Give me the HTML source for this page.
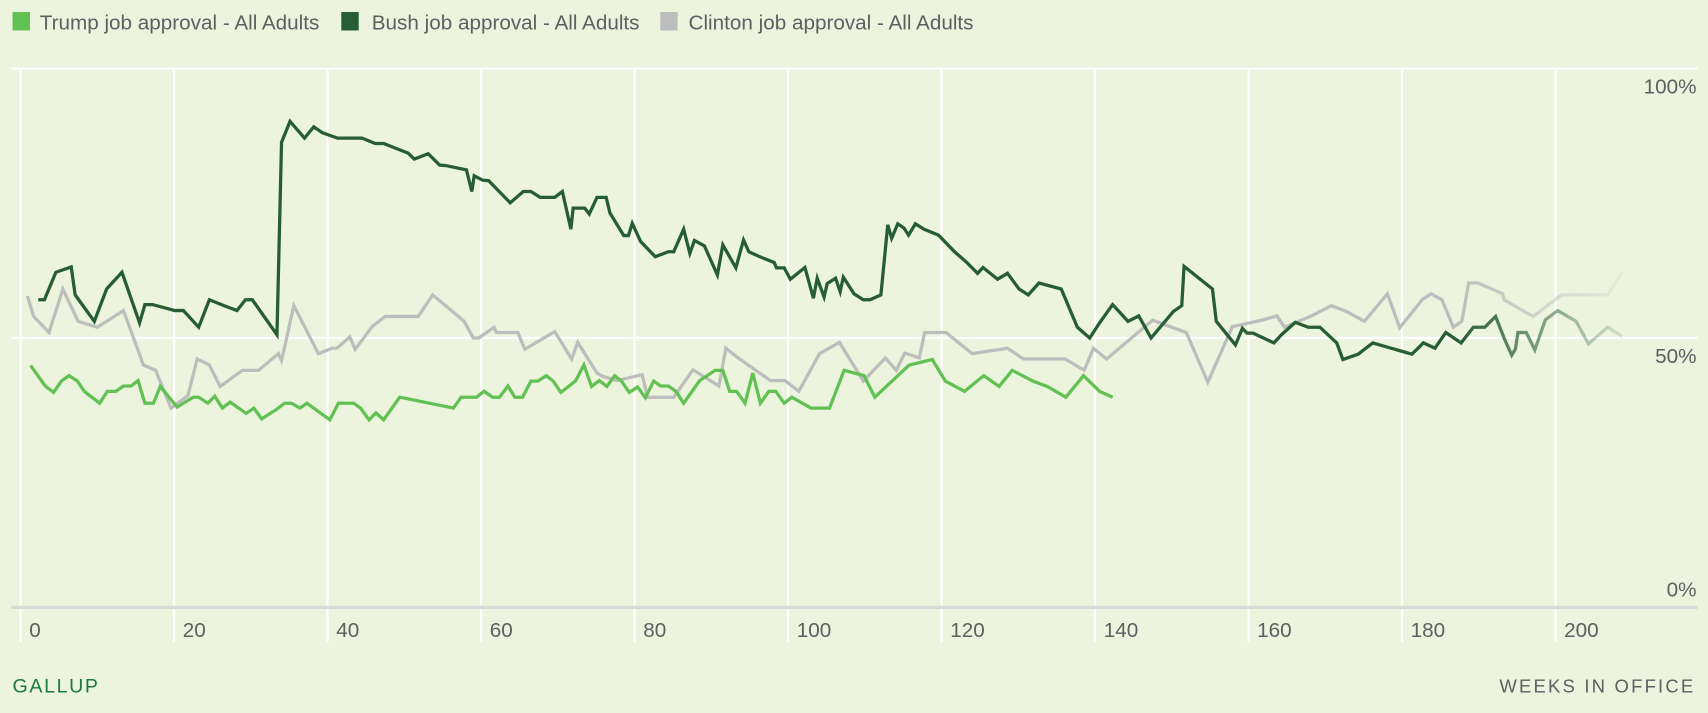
<!DOCTYPE html>
<html><head><meta charset="utf-8"><style>
html,body{margin:0;padding:0;background:#ecf4de;}
svg{display:block;}
text{font-family:"Liberation Sans",sans-serif;}
</style></head><body>
<svg id="chart" width="1708" height="713" viewBox="0 0 1568 655" xmlns="http://www.w3.org/2000/svg">
<rect width="1568" height="655" fill="#ecf4de"/>
<defs>
<linearGradient id="fade" gradientUnits="userSpaceOnUse" x1="1340" y1="0" x2="1492" y2="0">
<stop offset="0" stop-color="#fff" stop-opacity="1"/>
<stop offset="1" stop-color="#fff" stop-opacity="0.12"/>
</linearGradient>
<mask id="fademask" maskUnits="userSpaceOnUse" x="0" y="0" width="1568" height="655">
<rect x="0" y="0" width="1340" height="655" fill="#fff"/>
<rect x="1340" y="0" width="152" height="655" fill="url(#fade)"/>
</mask>
</defs>
<g>
<g><rect x="11" y="11" width="16" height="17" fill="#62c153"/><text x="36" y="27" font-size="19" fill="#5f5f5f">Trump job approval - All Adults</text></g>
<g><rect x="313" y="11" width="16" height="17" fill="#265d32"/><text x="341" y="27" font-size="19" fill="#5f5f5f">Bush job approval - All Adults</text></g>
<g><rect x="606" y="11" width="16" height="17" fill="#bdbdbd"/><text x="632" y="27" font-size="19" fill="#5f5f5f">Clinton job approval - All Adults</text></g>
</g>
<g id="grid"></g>
<g id="series" mask="url(#fademask)"></g>
<g id="axes"></g>
<text x="11" y="636" font-size="18" fill="#1a7a3e" letter-spacing="1.5">GALLUP</text>
<text x="1557" y="636" font-size="17" fill="#5f5f5f" letter-spacing="2" text-anchor="end">WEEKS IN OFFICE</text>
</svg>
<script>
const xTicks = [0,20,40,60,80,100,120,140,160,180,200];
const yTicks = [0,50,100];
const yTickLabels = ["0%","50%","100%"];

const trumpWeeks = [1.3,3.2,4.3,5.3,6.3,7.4,8.3,10.3,11.3,12.4,13.4,14.4,15.3,16.2,17.3,18.2,20.4,22.5,23.2,24.4,25.3,26.3,27.3,29.4,30.4,31.4,33.4,34.4,35.3,36.4,37.3,40.3,41.4,43.4,44.3,45.4,46.3,47.3,49.4,56.4,57.4,59.4,60.4,61.5,62.4,63.5,64.4,65.4,66.5,67.4,68.5,69.4,70.4,72.3,73.4,74.4,75.4,76.4,77.4,78.3,79.3,80.4,81.4,82.5,83.4,84.4,85.4,86.4,88.5,90.5,91.5,92.4,93.3,94.4,95.4,96.4,97.5,98.4,99.5,100.5,103.0,105.4,107.3,109.9,111.3,115.8,118.8,120.5,123.0,125.5,127.5,129.2,131.9,133.8,136.2,138.5,140.6,142.3];
const trumpValues = [44.9,41.1,39.9,42,43,42,40.1,37.9,40.1,40.1,41.1,41.1,42.1,37.9,37.9,41,37.2,39,39,37.9,39.2,37,38.1,36,37,35,36.8,37.9,37.9,37,37.9,34.8,37.9,37.9,37,34.8,36.1,34.8,39,37,39,39,40.1,39,39,41.1,39,39,42,42,43,42,39.9,42,45,41,42.1,41,43,42,39.9,40.9,38.9,42,41.1,41.1,40.1,37.9,42.1,44,44,40.1,40.1,37.9,43.5,37.9,40.1,40.1,37.9,39,37,37,44,43,39,45,46,42,40.1,43,41,44,42,41,39,43,40.1,39];

const bushWeeks = [2.3,3.1,4.6,6.6,7.1,9.6,11.2,13.2,15.5,16.2,17.2,20.1,21.2,23.2,24.6,26.5,28.2,29.3,30.2,33.4,34.0,35.1,37.0,38.2,39.3,41.3,44.5,46.2,47.3,50.5,51.3,53.1,54.6,55.4,58.1,58.8,59.1,60.2,61.0,63.8,65.5,66.5,67.7,69.6,70.6,71.7,72.0,73.5,74.1,75.1,76.3,76.8,78.6,79.2,79.7,80.8,82.7,84.4,85.1,86.4,87.2,87.8,89.1,90.8,91.5,93.2,94.2,94.9,96.3,98.2,98.5,99.5,100.3,102.2,103.3,103.8,104.7,105.1,106.2,106.8,107.2,108.6,109.8,110.7,112.1,113.0,113.5,114.3,115.1,115.7,116.6,117.7,119.6,121.7,123.3,124.7,125.4,127.3,128.6,130.1,131.3,132.7,135.6,137.7,139.3,140.6,142.3,144.3,145.7,147.3,150.2,151.3,151.6,155.3,155.8,158.3,159.2,159.8,160.6,163.3,164.3,166.1,167.8,169.3,171.5,172.3,174.3,176.2,181.3,182.8,184.3,185.7,187.7,189.3,190.8,192.2,193.3,194.3,194.8,195.1,196.2,197.3,198.7,200.3,202.7,204.3,206.8,208.7];
const bushValues = [57.1,57.1,62.2,63.2,58,53.1,59.1,62.2,52.8,56.2,56.2,55.1,55.1,52,57.1,56,55.1,57.1,57.1,50.6,86.3,90.2,87.1,89.2,88.1,87.1,87.1,86.1,86.1,84.3,83.2,84.2,82.1,82,81.2,77.2,80.1,79.3,79.2,75.1,77.2,77.2,76.1,76.1,77.2,70.2,74.1,74.1,73,76.1,76.1,73.2,69,69,71.3,67.9,65.1,66,66,70.2,65.7,68.1,67.1,61.7,67.3,63,68.2,66,65.1,64,63,63,60.9,63.1,57.4,61.1,57.6,60.1,61.1,58.6,61.3,58.2,57.1,57.1,58,71,68.5,71.2,70.4,69.1,71.2,70.2,69.1,66,64,62,63.1,60.9,62,59.1,58,60.2,59.1,52,50,52.8,56.2,53.1,54.1,50,54.9,56,63.3,59.1,53.1,48.7,51.8,50.9,50.9,49.1,50.6,52.9,52,52,49.1,46,47,49.1,47,49.1,48.1,51,49.1,52,52,54,50,46.8,48,51,51,47.8,53.4,55.1,53.1,48.9,52,50.3];

const clintonWeeks = [0.9,1.7,3.7,5.5,7.5,10.0,13.4,16.0,17.6,19.6,21.8,23.0,24.6,26.0,28.9,31.0,33.6,34.0,35.6,38.8,40.6,41.2,42.9,43.6,45.8,47.5,51.8,53.7,57.8,59.0,59.7,61.7,62.0,64.8,65.7,69.6,71.8,72.6,75.1,75.8,77.7,81.0,81.7,85.1,87.6,91.0,91.9,93.5,97.7,99.6,101.4,104.1,106.7,109.8,112.7,114.1,115.2,117.1,117.8,120.6,124.0,128.6,130.7,136.1,138.6,139.8,141.5,147.5,151.9,154.7,157.9,161.7,163.7,164.7,168.2,170.8,172.8,175.1,178.1,179.7,182.7,183.8,185.2,186.7,187.8,188.7,189.9,193.1,193.3,197.1,200.8,206.8,208.7];
const clintonValues = [57.8,54,51,59.1,53.1,52,55.1,45,44,37,39.3,46.1,45,41,44,44,47.1,45.8,56,47.1,48.1,48.1,50.2,47.9,52.1,54,54,58,53.1,50,50,52,51,51,47.9,51.2,46.1,49.2,43.5,42.9,42.1,43.2,39,39,44.1,41.1,48.1,46.3,42.1,42.1,40.1,47.1,49.2,42,46.3,44,47.2,46.3,51,51,47.1,48.1,46.1,46.1,44,48.1,46.1,53.3,51,41.8,52.1,53.3,54.1,52,54.1,56,54.9,53.1,58.2,51.9,57.2,58.2,57.1,52,53.1,60.2,60.2,58.2,57.1,54,58,58,62.2];

const NS = "http://www.w3.org/2000/svg";
function xS(w){ return 18.4 + 7.05*w; }
function yS(v){ return 558 - 4.95*v; }

const grid = document.getElementById('grid');
const axes = document.getElementById('axes');
const series = document.getElementById('series');

for (const t of xTicks) {
  const l = document.createElementNS(NS,'line');
  l.setAttribute('x1',xS(t)); l.setAttribute('x2',xS(t));
  l.setAttribute('y1',63); l.setAttribute('y2',590);
  l.setAttribute('stroke','#ffffff'); l.setAttribute('stroke-width','2');
  
  
  grid.appendChild(l);
  const tx = document.createElementNS(NS,'text');
  tx.setAttribute('x',xS(t)+8); tx.setAttribute('y',585);
  tx.setAttribute('font-size','19'); tx.setAttribute('fill','#5f5f5f');
  tx.textContent = String(t);
  
  
  axes.appendChild(tx);
}
yTicks.forEach((t,i)=>{
  const l = document.createElementNS(NS,'line');
  l.setAttribute('x1',10); l.setAttribute('x2',1559);
  l.setAttribute('y1',yS(t)); l.setAttribute('y2',yS(t));
  l.setAttribute('stroke', t===0 ? '#d9d9d6' : '#ffffff');
  l.setAttribute('stroke-width', t===0 ? '3' : '2');
  
  
  grid.appendChild(l);
  const tx = document.createElementNS(NS,'text');
  tx.setAttribute('x',1558); tx.setAttribute('y', t===0 ? yS(t)-10 : yS(t)+23);
  tx.setAttribute('font-size','19'); tx.setAttribute('fill','#5f5f5f');
  tx.setAttribute('text-anchor','end');
  tx.textContent = yTickLabels[i];
  
  
  axes.appendChild(tx);
});

function drawLine(weeks, vals, color, name){
  const p = document.createElementNS(NS,'polyline');
  p.setAttribute('points', weeks.map((w,i)=>xS(w).toFixed(1)+','+yS(vals[i]).toFixed(1)).join(' '));
  p.setAttribute('fill','none'); p.setAttribute('stroke',color);
  p.setAttribute('stroke-width','3'); p.setAttribute('stroke-linejoin','miter');
  
  
  series.appendChild(p);
}
drawLine(clintonWeeks, clintonValues, '#bdbdbd', 'clinton-line');
drawLine(bushWeeks, bushValues, '#265d32', 'bush-line');
drawLine(trumpWeeks, trumpValues, '#62c153', 'trump-line');
</script>
</body></html>
